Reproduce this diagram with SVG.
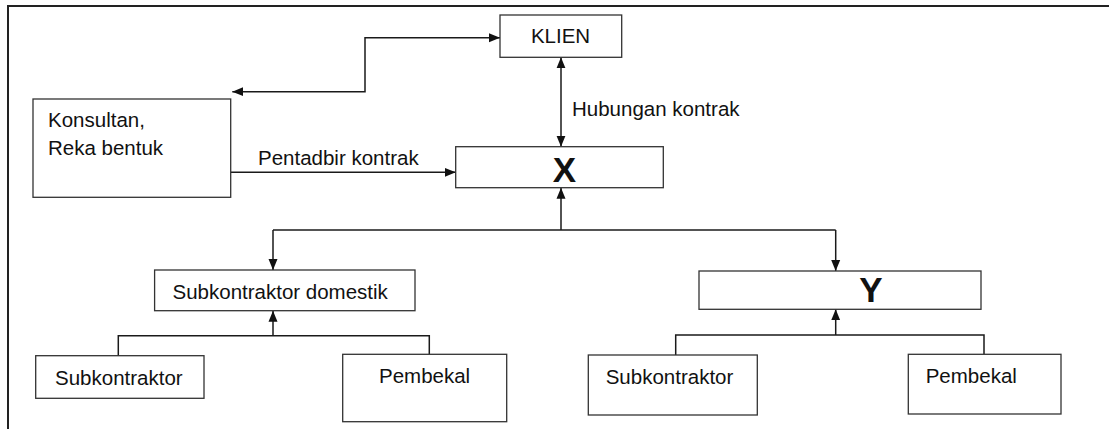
<svg xmlns="http://www.w3.org/2000/svg" width="1109" height="429" viewBox="0 0 1109 429">
<style>
  .box { fill: #ffffff; stroke: #333333; stroke-width: 1.3; }
  .t { font-family: "Liberation Sans", Arial, sans-serif; font-size: 20.5px; fill: #111111; }
  .big { font-family: "Liberation Sans", Arial, sans-serif; font-size: 35px; font-weight: bold; fill: #111111; }
  .c { fill: none; stroke: #1a1a1a; stroke-width: 1.5; }
  .frame { fill: none; stroke: #222222; stroke-width: 2; }
</style>
<defs>
  <marker id="ah" markerUnits="userSpaceOnUse" markerWidth="12" markerHeight="10" refX="11" refY="5" orient="auto-start-reverse">
    <path d="M0,0.5 L11,5 L0,9.5 z" fill="#111111"/>
  </marker>
</defs>
<rect width="1109" height="429" fill="#ffffff"/>
<path class="frame" d="M8,440 L8,6 L1120,6"/>

<g id="connectors">
  <path class="c" d="M500,37.7 L365,37.7 L365,91.7 L232.3,91.7" marker-start="url(#ah)" marker-end="url(#ah)"/>
  <path class="c" d="M561,57.3 L561,146.7" marker-start="url(#ah)" marker-end="url(#ah)"/>
  <path class="c" d="M230.7,172.3 L455.7,172.3" marker-end="url(#ah)"/>
  <path class="c" d="M561,230 L561,187.7" marker-end="url(#ah)"/>
  <path class="c" d="M273,230 L835.7,230"/>
  <path class="c" d="M273,230 L273,270" marker-end="url(#ah)"/>
  <path class="c" d="M835.7,230 L835.7,271" marker-end="url(#ah)"/>
  <path class="c" d="M273,335.7 L273,310.7" marker-end="url(#ah)"/>
  <path class="c" d="M118.3,356 L118.3,335.7 L429.3,335.7 L429.3,354.3"/>
  <path class="c" d="M835.7,335 L835.7,309.3" marker-end="url(#ah)"/>
  <path class="c" d="M675.7,355 L675.7,335 L984,335 L984,354.3"/>
  <text class="t" x="258" y="165">Pentadbir kontrak</text>
  <text class="t" x="572" y="116">Hubungan kontrak</text>
</g>

<g id="klien">
  <rect class="box" x="500" y="15" width="121.7" height="42.3"/>
  <text class="t" x="560.5" y="43.3" text-anchor="middle">KLIEN</text>
</g>
<g id="konsultan">
  <rect class="box" x="33" y="99" width="197.7" height="98.3"/>
  <text class="t" x="48" y="127">Konsultan,</text>
  <text class="t" x="48" y="155">Reka bentuk</text>
</g>
<g id="x">
  <rect class="box" x="455.7" y="146.7" width="207.6" height="41"/>
  <text class="big" x="564.5" y="181.7" text-anchor="middle">X</text>
</g>
<g id="subdomestik">
  <rect class="box" x="154.6" y="270" width="260.4" height="40.7"/>
  <text class="t" x="172.5" y="299.3">Subkontraktor domestik</text>
</g>
<g id="y">
  <rect class="box" x="699" y="271" width="282" height="38.3"/>
  <text class="big" x="871" y="301.7" text-anchor="middle">Y</text>
</g>
<g id="sub-left">
  <rect class="box" x="35.7" y="355.7" width="168.3" height="42.6"/>
  <text class="t" x="55" y="385">Subkontraktor</text>
</g>
<g id="pembekal-left">
  <rect class="box" x="342.7" y="354.3" width="164" height="67.4"/>
  <text class="t" x="379" y="383.3">Pembekal</text>
</g>
<g id="sub-right">
  <rect class="box" x="588.3" y="355" width="169" height="60"/>
  <text class="t" x="605.7" y="384.3">Subkontraktor</text>
</g>
<g id="pembekal-right">
  <rect class="box" x="908.3" y="354.3" width="152.7" height="59.7"/>
  <text class="t" x="925.7" y="383.3">Pembekal</text>
</g>
</svg>
